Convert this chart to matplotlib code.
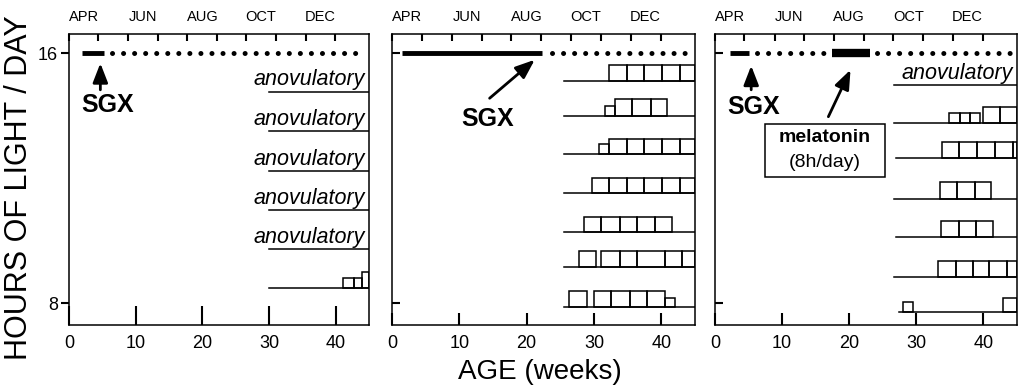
import matplotlib
matplotlib.use("Agg")
import matplotlib.pyplot as plt
from matplotlib.patches import Rectangle

plt.rcParams['font.family'] = ['Liberation Sans', 'DejaVu Sans']

# ---- data (x in weeks of age, y in hours of light/day) ----
month_labels = ["APR", "JUN", "AUG", "OCT", "DEC"]
month_label_pos = [2.3, 11.1, 20.0, 28.8, 37.6]
month_tick_pos = [0, 4.4, 8.9, 13.3, 17.7, 22.2, 26.6, 31.0, 35.5, 39.9]
age_ticks = [0, 10, 20, 30, 40]
light_ticks = [8, 16]
light_hours = 16

# panel 1: SGX at 2-5 weeks, kept on 16L
p1_sgx = [2.0, 5.2]
p1_dots = [[6.5, 43.1]]
p1_rows = [14.77, 13.51, 12.24, 10.99, 9.73, 8.48]
p1_starts = [30, 30, 30, 30, 30, 30]
p1_anov = [True, True, True, True, True, False]
p1_cycles = [[], [], [], [], [],
             [(41.1, 42.8, 0.32), (42.8, 44.0, 0.32), (44.0, 45.0, 0.53)]]

# panel 2: SGX at ~22 weeks
p2_sgx = [1.5, 22.3]
p2_dots = [[23.7, 43.6]]
p2_rows = [15.11, 13.99, 12.77, 11.53, 10.28, 9.16, 7.88]
p2_starts = [25.6, 25.6, 25.6, 25.6, 25.6, 25.6, 25.6]
p2_anov = [False] * 7
p2_cycles = [
    [(32.3, 34.9, 0.51), (34.9, 37.5, 0.51), (37.5, 40.1, 0.51), (40.1, 42.7, 0.51), (42.7, 45.0, 0.51)],
    [(31.7, 33.1, 0.32), (33.1, 35.7, 0.54), (35.7, 38.4, 0.54), (38.4, 40.9, 0.54)],
    [(30.7, 32.2, 0.32), (32.2, 34.9, 0.49), (34.9, 37.5, 0.49), (37.5, 40.1, 0.49), (40.1, 42.7, 0.49), (42.7, 45.0, 0.49)],
    [(29.7, 32.3, 0.49), (32.3, 34.9, 0.49), (34.9, 37.5, 0.49), (37.5, 40.1, 0.49), (40.1, 42.7, 0.49), (42.7, 45.0, 0.49)],
    [(28.5, 31.1, 0.49), (31.1, 33.8, 0.49), (33.8, 36.4, 0.49), (36.4, 39.0, 0.49), (39.0, 41.6, 0.49)],
    [(27.7, 30.3, 0.51), (31.1, 33.8, 0.51), (33.8, 36.4, 0.51), (36.4, 40.5, 0.51), (40.5, 43.1, 0.51), (43.1, 45.0, 0.51)],
    [(26.3, 28.9, 0.51), (30.0, 32.6, 0.51), (32.6, 35.3, 0.51), (35.3, 37.9, 0.51), (37.9, 40.5, 0.51), (40.5, 42.0, 0.29)],
]

# panel 3: SGX at 2-5 weeks, melatonin 17-23 weeks
p3_sgx = [2.2, 5.1]
p3_melatonin = [17.5, 23.1]
p3_dots = [[6.3, 16.4], [24.2, 44.4]]
p3_rows = [14.99, 13.76, 12.64, 11.33, 10.11, 8.85, 7.73]
p3_starts = [26.7, 26.7, 27.0, 26.7, 27.0, 26.7, 27.5]
p3_anov = [True, False, False, False, False, False, False]
p3_cycles = [
    [],
    [(34.9, 36.5, 0.32), (36.5, 38.0, 0.32), (38.0, 39.5, 0.32), (39.9, 42.5, 0.53), (42.5, 45.0, 0.53)],
    [(33.8, 36.4, 0.51), (36.4, 39.1, 0.51), (39.1, 41.7, 0.51), (41.7, 44.4, 0.51), (44.4, 45.0, 0.51)],
    [(33.6, 36.1, 0.54), (36.1, 38.7, 0.54), (38.7, 41.2, 0.54)],
    [(33.7, 36.3, 0.53), (36.3, 38.9, 0.53), (38.9, 41.4, 0.53)],
    [(33.3, 35.9, 0.5), (35.9, 38.5, 0.5), (38.5, 40.9, 0.5), (40.9, 43.5, 0.5), (43.5, 45.0, 0.5)],
    [(28.0, 29.5, 0.3), (42.9, 45.0, 0.45)],
]

XMAX = 45
LW = 1.1
TW = 1.5  # tick width


def light_bar(ax, span, lw):
    """Solid bar on the 16L line"""
    ax.plot(span, [light_hours, light_hours], color='k', lw=lw, solid_capstyle='butt')


def light_dots(ax, spans):
    """Dotted 16L line"""
    for span in spans:
        ax.plot(span, [light_hours, light_hours], color='k', lw=3.6,
                linestyle=(0, (0.01, 2.2)), dash_capstyle='round')


def draw_rows(ax, rows, starts, cycles, anov):
    """Baselines with estrous cycle boxes"""
    for y, x0, cyc, a in zip(rows, starts, cycles, anov):
        ax.plot([x0, XMAX], [y, y], color='k', lw=LW)
        for s, e, h in cyc:
            ax.bar(s, h, width=e - s, bottom=y, align='edge', fill=False,
                   edgecolor='k', linewidth=LW)
        if a:
            ax.text(44.4, y + 0.04, 'anovulatory', ha='right', va='bottom',
                    style='italic', fontsize=15.5)


def style_axes(ax, first, blen):
    """Frame, ticks and month labels"""
    ax.set_xlim(0, XMAX)
    ax.set_ylim(7.31, 16.63)
    for sp in ax.spines.values():
        sp.set_linewidth(LW)
    ax.set_xticks(age_ticks)
    ax.tick_params(axis='x', direction='in', length=blen, width=TW,
                   labelsize=13, pad=7)
    ax.set_yticks(light_ticks)
    if first:
        ax.tick_params(axis='y', direction='out', length=6, width=TW, labelsize=13, pad=2)
    else:
        ax.tick_params(axis='y', direction='in', length=6, width=TW, labelleft=False)
    # months on top: labels between monthly tick marks
    top = ax.twiny()
    top.set_xlim(0, XMAX)
    top.set_xticks(month_label_pos, month_labels)
    top.set_xticks(month_tick_pos, minor=True)
    top.tick_params(which='major', length=0, labelsize=10.5, pad=7)
    top.tick_params(which='minor', direction='in', length=5, width=TW)
    for sp in top.spines.values():
        sp.set_visible(False)


def arrow(ax, tail, tip):
    ax.annotate('', xy=tip, xytext=tail,
                arrowprops=dict(arrowstyle='-|>,head_length=0.9,head_width=0.35',
                                mutation_scale=13, lw=2, color='k',
                                shrinkA=0, shrinkB=0))


fig = plt.figure(figsize=(10.24, 3.91), dpi=100)
bottom, height = 0.1688, 0.7455
ax1 = fig.add_axes([0.0674, bottom, 0.293, height])
ax2 = fig.add_axes([0.3828, bottom, 0.2959, height])
ax3 = fig.add_axes([0.6982, bottom, 0.2949, height])

# panel 1
light_bar(ax1, p1_sgx, 3.5)
light_dots(ax1, p1_dots)
draw_rows(ax1, p1_rows, p1_starts, p1_cycles, p1_anov)
arrow(ax1, (4.7, 14.83), (4.7, 15.68))
ax1.text(5.75, 14.35, 'SGX', ha='center', va='center', fontsize=18, fontweight='bold')
style_axes(ax1, True, 14)

# panel 2
light_bar(ax2, p2_sgx, 3.5)
light_dots(ax2, p2_dots)
draw_rows(ax2, p2_rows, p2_starts, p2_cycles, p2_anov)
arrow(ax2, (14.5, 14.56), (21.2, 15.79))
ax2.text(14.2, 13.9, 'SGX', ha='center', va='center', fontsize=18, fontweight='bold')
style_axes(ax2, False, 9)

# panel 3
light_bar(ax3, p3_sgx, 3.5)
light_bar(ax3, p3_melatonin, 6)
light_dots(ax3, p3_dots)
draw_rows(ax3, p3_rows, p3_starts, p3_cycles, p3_anov)
arrow(ax3, (5.4, 14.83), (5.4, 15.6))
ax3.text(5.7, 14.27, 'SGX', ha='center', va='center', fontsize=18, fontweight='bold')
arrow(ax3, (16.9, 13.97), (20.2, 15.47))
ax3.add_patch(Rectangle((7.5, 12.05), 17.9, 1.7, fill=False, lw=LW, zorder=3))
ax3.text(16.4, 13.3, 'melatonin', ha='center', va='center', fontsize=14, fontweight='bold')
ax3.text(16.4, 12.5, '(8h/day)', ha='center', va='center', fontsize=14)
style_axes(ax3, False, 9)

fig.text(0.019, 0.52, 'HOURS OF LIGHT / DAY', rotation=90, ha='center', va='center', fontsize=22)
fig.text(0.527, 0.048, 'AGE (weeks)', ha='center', va='center', fontsize=20)

fig.savefig('out.png', dpi=100)
